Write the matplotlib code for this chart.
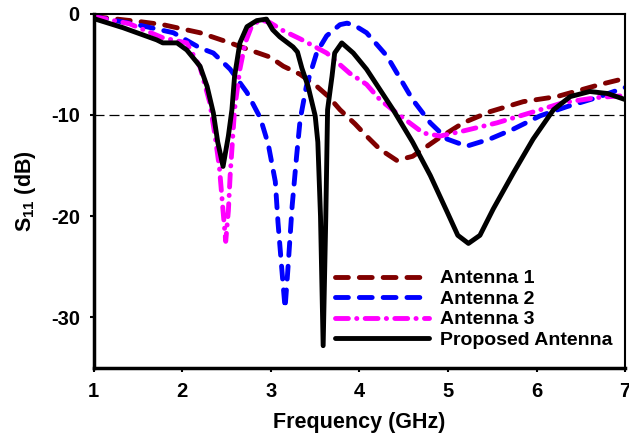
import numpy as np
import matplotlib
matplotlib.use("Agg")
from matplotlib import pyplot as plt

plt.rcParams['font.family'] = ['Liberation Sans', 'DejaVu Sans']
plt.rcParams['font.weight'] = 'bold'
plt.rcParams['axes.unicode_minus'] = False
plt.rcParams['mathtext.fontset'] = 'custom'
plt.rcParams['mathtext.rm'] = 'Liberation Sans'

# antenna 1 (dark red dashed)
f1 = [1.0, 1.52, 1.78, 2.2, 2.54, 2.76, 2.99, 3.14, 3.33, 3.52, 3.65, 3.78, 3.95,
      4.08, 4.23, 4.42, 4.6, 4.88, 5.17, 5.47, 5.85, 6.23, 6.72, 7.0]
s1 = [-0.3, -0.8, -1.1, -1.9, -2.9, -3.6, -4.3, -5.2, -6.0, -7.2, -8.2, -9.5, -10.9,
      -12.1, -13.4, -14.5, -14.1, -12.4, -10.8, -9.7, -8.7, -8.2, -7.0, -6.4]

# antenna 2 (blue dashed)
f2 = [1.0, 1.49, 1.9, 2.2, 2.35, 2.54, 2.73, 2.88, 2.97, 3.05, 3.08, 3.12, 3.16,
      3.19, 3.24, 3.29, 3.33, 3.4, 3.52, 3.63, 3.78, 3.86, 3.95, 4.08, 4.31, 4.6, 4.8,
      4.99, 5.21, 5.47, 5.74, 6.04, 6.34, 6.68, 7.0]
s2 = [-0.3, -1.1, -1.9, -3.4, -3.9, -5.5, -7.8, -10.3, -12.9, -16.6, -20.6, -24.9, -29.1,
      -25.5, -19.0, -14.1, -10.5, -7.2, -3.8, -2.2, -1.1, -0.95, -1.2, -1.9, -4.2, -8.5, -10.8,
      -12.4, -13.1, -12.4, -11.4, -10.1, -9.2, -8.3, -7.3]

# antenna 3 (magenta dash-dot)
f3 = [1.0, 1.4, 1.78, 2.05, 2.2, 2.31, 2.37, 2.42, 2.46, 2.49, 2.52, 2.54, 2.59, 2.65, 2.71,
      2.78, 2.88, 2.99, 3.14, 3.33, 3.63, 3.89, 4.08, 4.23, 4.46, 4.72, 4.91, 5.17, 5.55, 5.93,
      6.3, 6.68, 7.0]
s3 = [-0.3, -1.0, -2.4, -2.9, -5.3, -8.8, -12.1, -15.3, -19.5, -22.5, -19.5, -16.0, -9.5, -5.5, -2.9,
      -1.3, -0.6, -0.9, -1.7, -2.5, -3.9, -5.9, -7.0, -8.5, -10.1, -11.8, -12.1, -11.6, -10.8, -9.8,
      -8.8, -8.3, -8.1]

# proposed antenna (black solid)
f4 = [1.0, 1.33, 1.71, 1.78, 1.94, 2.05, 2.2, 2.28, 2.35, 2.4, 2.46, 2.52, 2.56, 2.59, 2.65,
      2.73, 2.84, 2.95, 3.02, 3.1, 3.25, 3.3, 3.35, 3.42, 3.5, 3.53, 3.56, 3.59, 3.62, 3.64,
      3.67, 3.69, 3.72, 3.8, 3.93, 4.08, 4.23, 4.38, 4.6, 4.8, 4.99, 5.11, 5.23, 5.36, 5.51,
      5.74, 5.96, 6.19, 6.38, 6.6, 6.8, 7.0]
s4 = [-0.5, -1.4, -2.6, -2.9, -2.9, -3.6, -5.2, -7.2, -9.8, -12.7, -15.1, -12.1, -9.5, -6.2, -2.9,
      -1.3, -0.7, -0.55, -1.6, -2.3, -3.3, -3.8, -5.4, -7.2, -10.1, -12.7, -20.0, -32.8, -20.0, -9.5,
      -7.5, -6.2, -3.9, -2.9, -3.9, -5.5, -7.5, -9.5, -12.7, -16.0, -19.6, -21.9, -22.7, -21.9, -19.3,
      -15.7, -12.4, -9.5, -8.2, -7.7, -7.9, -8.5]

fig = plt.figure(figsize=(6.29, 4.36), dpi=100)
ax = fig.add_axes([0.149, 0.156, 0.845, 0.813])

ax.axhline(-10, color='black', lw=0.9, ls=(0, (8, 4)), zorder=1)
dash = (0, (2.65, 2.25))
dashdot = (0, (2.65, 1.7, 0.05, 1.7))
ax.plot(f1, s1, color='#800000', lw=3.5, ls=dash, dash_capstyle='round', label='Antenna 1')
ax.plot(f2, s2, color='#0000ff', lw=3.5, ls=dash, dash_capstyle='round', label='Antenna 2')
ax.plot(f3, s3, color='#ff00ff', lw=3.5, ls=dashdot, dash_capstyle='round', label='Antenna 3')
ax.plot(f4, s4, color='black', lw=3.5, ls='-', solid_capstyle='round',
        solid_joinstyle='round', label='Proposed Antenna')

ax.set_xlim(1, 7)
ax.set_ylim(-35, 0)
ax.set_xticks([1, 2, 3, 4, 5, 6, 7])
ax.set_yticks([0, -10, -20, -30])
ax.tick_params(direction='out', length=3, width=1.5, labelsize=14.5, pad=7)
for lab in ax.get_xticklabels() + ax.get_yticklabels():
    lab.set_fontweight('bold')

for side in ['left', 'bottom']:
    ax.spines[side].set_linewidth(2.5)
for side in ['top', 'right']:
    ax.spines[side].set_linewidth(1.5)

ax.set_xlabel('Frequency (GHz)', fontsize=15.5, fontweight='bold', labelpad=8)
ax.set_ylabel('S$_{11}$ (dB)', fontsize=15.5, fontweight='bold', labelpad=9)

ax.legend(loc='lower right', frameon=False, handlelength=4.85,
          labelspacing=0.15, handletextpad=0.55, borderaxespad=0.25,
          bbox_to_anchor=(1.0, 0.018), prop={'weight': 'bold', 'size': 14})

fig.savefig('out.png', dpi=100)
